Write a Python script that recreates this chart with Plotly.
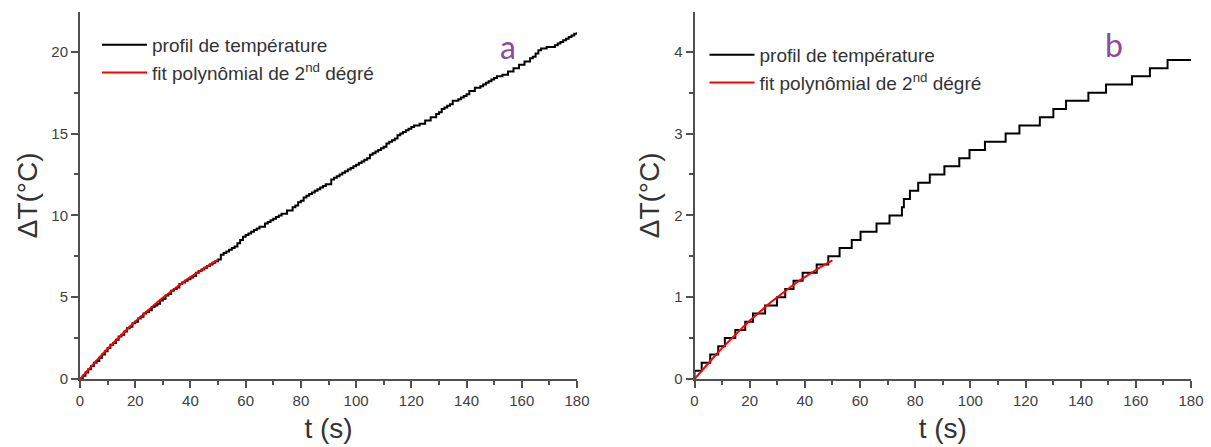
import plotly.graph_objects as go

# ---------------- data ----------------
# panel a : temperature profile (black, one reading per second, 0.1 degC resolution)
a_t = list(range(0, 181))
a_dT = [0.0, 0.2, 0.4, 0.6, 0.8, 1.0, 1.1, 1.3, 1.5, 1.7,
        1.9, 2.1, 2.2, 2.4, 2.6, 2.7, 2.9, 3.1, 3.2, 3.4,
        3.5, 3.7, 3.8, 4.0, 4.1, 4.2, 4.4, 4.5, 4.6, 4.8,
        4.9, 5.1, 5.2, 5.4, 5.5, 5.6, 5.8, 5.9, 6.0, 6.1,
        6.2, 6.3, 6.5, 6.6, 6.7, 6.8, 6.9, 7.0, 7.1, 7.2,
        7.3, 7.6, 7.7, 7.8, 7.9, 8.0, 8.1, 8.3, 8.5, 8.7,
        8.8, 8.9, 9.0, 9.1, 9.2, 9.3, 9.3, 9.5, 9.6, 9.7,
        9.8, 9.9, 10.0, 10.1, 10.1, 10.3, 10.3, 10.5, 10.6, 10.8,
        10.9, 11.1, 11.2, 11.3, 11.4, 11.5, 11.6, 11.7, 11.8, 11.9,
        11.9, 12.2, 12.3, 12.4, 12.5, 12.6, 12.7, 12.8, 12.9, 13.0,
        13.1, 13.2, 13.3, 13.4, 13.5, 13.7, 13.8, 13.9, 14.0, 14.1,
        14.2, 14.4, 14.5, 14.6, 14.7, 14.9, 15.0, 15.1, 15.2, 15.3,
        15.4, 15.5, 15.5, 15.6, 15.6, 15.8, 15.8, 16.0, 16.0, 16.2,
        16.3, 16.5, 16.6, 16.7, 16.8, 17.0, 17.0, 17.1, 17.2, 17.3,
        17.4, 17.6, 17.6, 17.8, 17.8, 17.9, 18.0, 18.1, 18.2, 18.3,
        18.4, 18.5, 18.5, 18.6, 18.6, 18.8, 18.8, 19.0, 19.0, 19.2,
        19.2, 19.4, 19.4, 19.6, 19.7, 19.9, 20.1, 20.2, 20.2, 20.3,
        20.3, 20.3, 20.4, 20.5, 20.6, 20.7, 20.8, 20.9, 21.0, 21.1,
        21.2]
# panel a : 2nd-degree polynomial fit (red)
a_fit_t = [0, 2, 4, 6, 8, 10, 12, 14, 16, 18, 20, 22, 24, 26, 28, 30, 32, 34, 36, 38, 40, 42, 44, 46, 48, 50]
a_fit_dT = [0.000, 0.386, 0.764, 1.135, 1.497, 1.852, 2.199, 2.538, 2.869, 3.193, 3.508, 3.816, 4.116,
            4.408, 4.692, 4.968, 5.237, 5.497, 5.750, 5.995, 6.232, 6.461, 6.683, 6.896, 7.102, 7.300]

# panel b : stepwise temperature profile (0.1 degC resolution) and its fit
b_t = [0, 0, 2.6, 5.7, 8.6, 11.0, 14.8, 18.4, 21.2, 25.6, 29.9, 32.9, 35.9, 39.2, 44.3, 48.5, 52.6, 57.0, 60.2, 66.0,
       70.7, 75.2, 75.9, 78.1, 81.1, 85.3, 90.6, 96.0, 99.7, 105.3, 112.8, 117.8, 125.2, 130.1, 134.7, 142.8, 149.2, 158.6, 165.1, 171.5, 180]
b_dT = [0.0, 0.1, 0.2, 0.3, 0.4, 0.5, 0.6, 0.7, 0.8, 0.9, 1.0, 1.1, 1.2, 1.3, 1.4, 1.5, 1.6, 1.7, 1.8, 1.9,
        2.0, 2.1, 2.2, 2.3, 2.4, 2.5, 2.6, 2.7, 2.8, 2.9, 3.0, 3.1, 3.2, 3.3, 3.4, 3.5, 3.6, 3.7, 3.8, 3.9, 3.9]
b_fit_t = [0, 2, 4, 6, 8, 10, 12, 14, 16, 18, 20, 22, 24, 26, 28, 30, 32, 34, 36, 38, 40, 42, 44, 46, 48, 50]
b_fit_dT = [0.000, 0.079, 0.156, 0.232, 0.306, 0.378, 0.448, 0.517, 0.584, 0.649, 0.712, 0.774, 0.833,
            0.891, 0.948, 1.002, 1.055, 1.106, 1.155, 1.202, 1.248, 1.292, 1.334, 1.375, 1.413, 1.450]

name_profile = "profil de température"
name_fit = "fit polynômial de 2<sup>nd</sup> dégré"
x_ticks = [0, 20, 40, 60, 80, 100, 120, 140, 160, 180]

# ---------------- styles ----------------
W, H = 1211, 447
FONT = "Liberation Sans, Arial, sans-serif"
AX = "#505050"
TXT = "#404040"

fig = go.Figure()
fig.add_trace(go.Scatter(x=a_t, y=a_dT, mode="lines", name=name_profile, line_shape="hv",
                         line=dict(color="black", width=2), xaxis="x", yaxis="y", legend="legend"))
fig.add_trace(go.Scatter(x=a_fit_t, y=a_fit_dT, mode="lines", name=name_fit,
                         line=dict(color="#ff0000", width=2), xaxis="x", yaxis="y", legend="legend"))
fig.add_trace(go.Scatter(x=b_t, y=b_dT, mode="lines", name=name_profile, line_shape="hv",
                         line=dict(color="black", width=2), xaxis="x2", yaxis="y2", legend="legend2"))
fig.add_trace(go.Scatter(x=b_fit_t, y=b_fit_dT, mode="lines", name=name_fit,
                         line=dict(color="#ff0000", width=2), xaxis="x2", yaxis="y2", legend="legend2"))

xdomA = [80 / W, 577 / W]
xdomB = [694.5 / W, 1191 / W]
ydom = [(H - 379) / H, (H - 11.7) / H]
yrA = [0, 22.45]
yrB = [0, 4.49]


def base_x(domain, anchor):
    return dict(domain=domain, anchor=anchor, range=[0, 180], tickvals=x_ticks,
                ticks="outside", ticklen=7, tickwidth=1.5, tickcolor=AX,
                minor=dict(ticks="outside", ticklen=4, tickwidth=1.5, tickcolor=AX, dtick=10, tick0=0),
                showline=True, linecolor=AX, linewidth=2, showgrid=False, zeroline=False,
                tickfont=dict(family=FONT, size=15, color=TXT),
                title=dict(text="t (s)", font=dict(family=FONT, size=28, color="#333333"), standoff=10),
                automargin=False)


def base_y(domain, anchor, rng, dtick):
    return dict(domain=domain, anchor=anchor, range=rng, dtick=dtick, tick0=0,
                ticks="outside", ticklen=7, tickwidth=1.5, tickcolor=AX,
                minor=dict(ticks="outside", ticklen=4, tickwidth=1.5, tickcolor=AX, dtick=dtick / 2, tick0=0),
                showline=True, linecolor=AX, linewidth=2, showgrid=False, zeroline=False,
                tickfont=dict(family=FONT, size=15, color=TXT),
                title=dict(text="ΔT(°C)", font=dict(family=FONT, size=28, color="#333333"), standoff=6),
                automargin=False)


def mirror_x(over, anchor):
    return dict(overlaying=over, anchor=anchor, side="top", range=[0, 180], tickvals=x_ticks,
                ticks="inside", ticklen=7, tickwidth=1.5, tickcolor=AX,
                minor=dict(ticks="inside", ticklen=4, tickwidth=1.5, tickcolor=AX, dtick=10, tick0=0),
                showticklabels=False, showline=True, linecolor=AX, linewidth=2,
                showgrid=False, zeroline=False, automargin=False)


def mirror_y(over, anchor, rng, dtick):
    return dict(overlaying=over, anchor=anchor, side="right", range=rng, dtick=dtick, tick0=0,
                ticks="inside", ticklen=7, tickwidth=1.5, tickcolor=AX,
                minor=dict(ticks="inside", ticklen=4, tickwidth=1.5, tickcolor=AX, dtick=dtick / 2, tick0=0),
                showticklabels=False, showline=True, linecolor=AX, linewidth=2,
                showgrid=False, zeroline=False, automargin=False)


legend_style = dict(font=dict(family=FONT, size=19, color="#333333"), bgcolor="rgba(0,0,0,0)",
                    borderwidth=0, xanchor="left", yanchor="top", itemwidth=45, tracegroupgap=0)

fig.update_layout(
    width=W, height=H,
    margin=dict(l=0, r=0, t=0, b=0),
    paper_bgcolor="white", plot_bgcolor="white",
    xaxis=base_x(xdomA, "y"),
    yaxis=base_y(ydom, "x", yrA, 5),
    xaxis2=base_x(xdomB, "y2"),
    yaxis2=base_y(ydom, "x2", yrB, 1),
    xaxis3=mirror_x("x", "y"),
    yaxis3=mirror_y("y", "x", yrA, 5),
    xaxis4=mirror_x("x2", "y2"),
    yaxis4=mirror_y("y2", "x2", yrB, 1),
    legend=dict(x=xdomA[0] + 17 / W, y=1 - 26 / H, **legend_style),
    legend2=dict(x=xdomB[0] + 10 / W, y=1 - 36 / H, **legend_style),
    annotations=[
        dict(text="a", x=155, y=20.3, xref="x", yref="y", showarrow=False,
             font=dict(family="Lato, Open Sans, sans-serif", size=32, color="#8B4A9C")),
        dict(text="b", x=152, y=4.09, xref="x2", yref="y2", showarrow=False,
             font=dict(family="Lato, Open Sans, sans-serif", size=32, color="#8B4A9C")),
    ],
)

fig.write_html("out.html", config={"displayModeBar": False},
               post_script="document.body.style.margin='0';document.body.style.overflow='hidden';")
